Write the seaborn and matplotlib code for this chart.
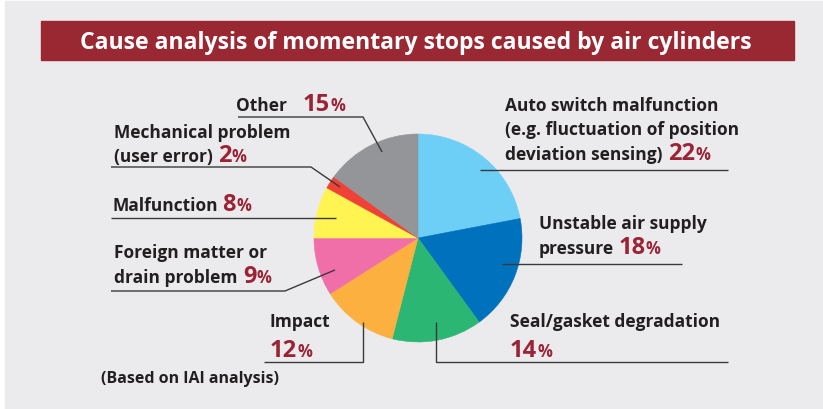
import matplotlib
matplotlib.use("Agg")
import numpy as np
import matplotlib.pyplot as plt
from matplotlib.patches import Rectangle
import seaborn as sns

# data
causes = ["Auto switch malfunction", "Unstable air supply pressure", "Seal/gasket degradation",
          "Impact", "Foreign matter or drain problem", "Malfunction",
          "Mechanical problem (user error)", "Other"]
shares = [22, 18, 14, 12, 9, 8, 2, 15]
label_lines = [
    ["Auto switch malfunction", "(e.g. fluctuation of position", "deviation sensing)"],
    ["Unstable air supply", "pressure"],
    ["Seal/gasket degradation", ""],
    ["Impact", ""],
    ["Foreign matter or", "drain problem"],
    ["Malfunction"],
    ["Mechanical problem", "(user error)"],
    ["Other"],
]
slice_colors = ["#6dcff6", "#0071bc", "#2bb673", "#fbb040", "#f06fa8", "#fff451", "#ef4136", "#939598"]
title = "Cause analysis of momentary stops caused by air cylinders"
note = "(Based on IAI analysis)"

# layout (image pixels, y measured from top)
W, H = 823, 410
CX, CY, R = 418, 239, 104
FONT = ["Open Sans", "DejaVu Sans"]
DARK = "#231f20"
RED = "#9b2335"
LINE = "#3a3a3a"

# text x, baseline of each line, gap before the number
text_pos = [
    (505, [111, 135, 160], 6),
    (539, [229, 254], 4),
    (510, [327, 357], 0),
    (270, [327, 357], 0),
    (114, [258, 283], 6),
    (113, [211], 4),
    (114, [138, 162], 5),
    (236, [111], 16),
]
# leader anchor: position inside slice (clockwise), radial fraction, then route
anchors = [(0.535, 0.885), (0.43, 0.845), (0.474, 0.826), (0.435, 0.965),
           (0.35, 0.855), (0.476, 0.81), (0.61, 0.896), (0.58, 0.896)]
routes = [
    ("h", 728), ("h", 682), ("v", 363, 728), ("v", 363, 264),
    ("e", (285, 292), 111), ("h", 111), ("e", (311, 168), 111), ("e", (363, 118), 238),
]

sns.set_theme(style="white")
plt.rcParams["font.family"] = FONT

fig = plt.figure(figsize=(W / 100, H / 100), dpi=100, facecolor="white")
ax = fig.add_axes([0, 0, 1, 1])

ax.add_patch(Rectangle((5, 0), W - 5, H - 2, color="#ebebed", zorder=0))
ax.add_patch(Rectangle((41, H - 61), 753, 39, color="#9a2833", zorder=1))
ax.text(416, H - 43, title, color="white", fontsize=16.6, fontweight="bold",
        ha="center", va="center", zorder=2)

wedges, _ = ax.pie(shares, colors=sns.color_palette(slice_colors), startangle=90,
                   counterclock=False, center=(CX, H - CY), radius=R)
for w in wedges:
    w.set_edgecolor(w.get_facecolor())
    w.set_linewidth(0.4)
    w.set_zorder(3)

ax.set_xlim(0, W)
ax.set_ylim(0, H)
ax.set_aspect("auto")
ax.axis("off")

renderer = fig.canvas.get_renderer()


def put(x, y, s, size, color):
    t = ax.text(x, H - y, s, fontsize=size, color=color, fontweight="bold",
                ha="left", va="baseline", zorder=5)
    return x + t.get_window_extent(renderer).width


for i, w in enumerate(wedges):
    # anchor point inside the wedge
    pos, frac = anchors[i]
    a = np.deg2rad(w.theta2 - pos * (w.theta2 - w.theta1))
    px = CX + frac * R * np.cos(a)
    py = CY - frac * R * np.sin(a)
    r = routes[i]
    if r[0] == "h":
        xs, ys = [px, r[1]], [py, py]
    elif r[0] == "v":
        xs, ys = [px, px, r[2]], [py, r[1], r[1]]
    else:
        ex, ey = r[1]
        xs, ys = [px, ex, r[2]], [py, ey, ey]
    ax.plot(xs, [H - v for v in ys], color=LINE, lw=1.0, zorder=4,
            solid_capstyle="butt", solid_joinstyle="miter")

    x0, baselines, gap = text_pos[i]
    lines = label_lines[i]
    for j, (s, by) in enumerate(zip(lines, baselines)):
        x = x0
        if s:
            x = put(x0, by, s, 12.5, DARK)
        if j == len(lines) - 1:
            x = put(x + gap, by, str(shares[i]), 17, RED)
            put(x, by, "%", 12, RED)

put(101, 383, note, 11.5, DARK)

fig.savefig("out.png", dpi=100, facecolor=fig.get_facecolor())
